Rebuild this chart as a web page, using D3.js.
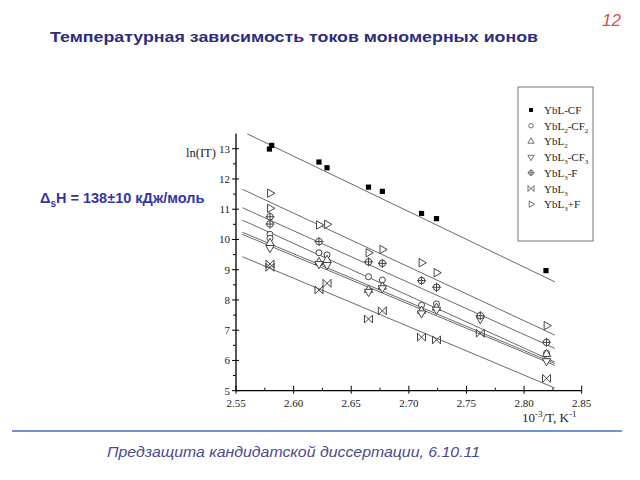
<!DOCTYPE html>
<html><head><meta charset="utf-8">
<script src="https://cdn.jsdelivr.net/npm/d3@7"></script>
<style>body{margin:0;background:#fff}</style>
</head><body>
<svg id="c" width="640" height="480"></svg>
<script>
// ---- data ----
const seriesNames = ["YbL-CF","YbL2-CF2","YbL2","YbL3-CF3","YbL3-F","YbL3","YbL3+F"];
const xTicks = [2.55,2.60,2.65,2.70,2.75,2.80,2.85];
const yTicks = [5,6,7,8,9,10,11,12,13];

const cfX   = [2.579,2.581,2.622,2.629,2.665,2.677,2.711,2.724,2.819];
const cfY   = [12.99,13.11,12.56,12.37,11.73,11.59,10.86,10.69,8.97];
const l2cfX = [2.5795,2.5795,2.622,2.629,2.665,2.677,2.711,2.724,2.8195];
const l2cfY = [10.17,10.04,9.56,9.49,8.77,8.66,7.83,7.87,6.24];
const l2X   = [2.5795,2.622,2.629,2.665,2.677,2.711,2.724,2.8195];
const l2Y   = [9.88,9.25,9.32,8.33,8.44,7.64,7.74,6.21];
const l3cfX = [2.5795,2.622,2.629,2.665,2.677,2.711,2.724,2.762,2.8195];
const l3cfY = [9.72,9.19,9.16,8.27,8.39,7.56,7.68,7.37,5.98];
const l3fX  = [2.5795,2.5795,2.622,2.665,2.677,2.711,2.724,2.762,2.8195];
const l3fY  = [10.75,10.51,9.93,9.26,9.21,8.64,8.42,7.48,6.60];
const l3X   = [2.5795,2.5795,2.622,2.629,2.665,2.677,2.711,2.724,2.762,2.8195];
const l3Y   = [9.19,9.08,8.33,8.55,7.37,7.64,6.77,6.68,6.90,5.41];
const l3pfX = [2.5795,2.5795,2.622,2.629,2.665,2.677,2.711,2.724,2.8195];
const l3pfY = [11.53,11.03,10.48,10.50,9.56,9.67,9.23,8.90,7.15];

// fitted lines (start / end, data units), same order as seriesNames
const fitX0 = [2.5598,2.5555,2.5555,2.5555,2.5555,2.5555,2.5555];
const fitX1 = [2.8266,2.8266,2.8266,2.8266,2.8266,2.8266,2.8266];
const fitY0 = [13.49,10.64,10.24,10.17,11.05,9.43,11.66];
const fitY1 = [8.60,5.95,5.90,5.84,6.40,5.09,6.84];

const seriesX = [cfX,l2cfX,l2X,l3cfX,l3fX,l3X,l3pfX];
const seriesY = [cfY,l2cfY,l2Y,l3cfY,l3fY,l3Y,l3pfY];

// ---- drawing ----
const svg = d3.select("#c");
const x = d3.scaleLinear().domain([2.55,2.85]).range([236,581.7]);
const y = d3.scaleLinear().domain([5,13.5]).range([390.7,133.6]);
const serif = "'Liberation Serif','Times New Roman',serif";
const sans = "'Liberation Sans',Arial,sans-serif";

// title
svg.append("text").attr("x",50).attr("y",42).attr("font-family",sans)
  .attr("font-weight","bold").attr("font-size",15.5).attr("fill","#2e2d7c")
  .attr("textLength",488).attr("lengthAdjust","spacingAndGlyphs")
  .text("Температурная зависимость токов мономерных ионов");
svg.append("text").attr("x",621).attr("y",26).attr("text-anchor","end").attr("font-family",sans)
  .attr("font-style","italic").attr("font-size",17).attr("fill","#e04a4a").text("12");

// dH
const dh = svg.append("text").attr("x",40).attr("y",203).attr("font-family",sans)
  .attr("font-weight","bold").attr("font-size",14.5).attr("fill","#3535a0");
dh.append("tspan").text("Δ");
dh.append("tspan").attr("font-size",10).attr("dy",4).text("s");
dh.append("tspan").attr("dy",-4).text("H = 138±10 кДж/моль");

// footer
svg.append("line").attr("x1",12).attr("x2",622).attr("y1",431).attr("y2",431)
  .attr("stroke","#7391da").attr("stroke-width",2);
svg.append("text").attr("x",107).attr("y",457).attr("font-family",sans)
  .attr("font-style","italic").attr("font-size",15).attr("fill","#4a4a8c")
  .attr("textLength",373).attr("lengthAdjust","spacingAndGlyphs")
  .text("Предзащита кандидатской диссертации, 6.10.11");

// axes
const x0 = x.range()[0], yb = y(5);
svg.append("line").attr("x1",x0).attr("x2",x0).attr("y1",y(13.5)).attr("y2",yb)
  .attr("stroke","#000").attr("stroke-width",1.3);
svg.append("line").attr("x1",x0).attr("x2",x(2.85)).attr("y1",yb).attr("y2",yb)
  .attr("stroke","#000").attr("stroke-width",1.3);
yTicks.forEach(v=>{
  svg.append("line").attr("x1",x0-4).attr("x2",x0+3).attr("y1",y(v)).attr("y2",y(v)).attr("stroke","#000");
  if(v<13) svg.append("line").attr("x1",x0-3).attr("x2",x0).attr("y1",y(v+0.5)).attr("y2",y(v+0.5)).attr("stroke","#000");
  svg.append("text").attr("x",x0-6).attr("y",y(v)+4).attr("text-anchor","end")
    .attr("font-family",serif).attr("font-size",11).attr("fill","#222").text(v);
});
xTicks.forEach((v,i)=>{
  svg.append("line").attr("x1",x(v)).attr("x2",x(v)).attr("y1",yb-5).attr("y2",yb+3).attr("stroke","#000");
  if(i<xTicks.length-1) svg.append("line").attr("x1",x((v+xTicks[i+1])/2)).attr("x2",x((v+xTicks[i+1])/2))
    .attr("y1",yb-3).attr("y2",yb).attr("stroke","#000");
  svg.append("text").attr("x",x(v)).attr("y",yb+16).attr("text-anchor","middle")
    .attr("font-family",serif).attr("font-size",11).attr("fill","#222").text(d3.format(".2f")(v));
});
svg.append("text").attr("x",186).attr("y",157).attr("font-family",serif).attr("font-size",12.5)
  .attr("fill","#222").text("ln(IT)");
const xl = svg.append("text").attr("x",522).attr("y",422).attr("font-family",serif)
  .attr("font-size",13).attr("fill","#222");
xl.append("tspan").text("10");
xl.append("tspan").attr("font-size",9).attr("dy",-5).text("-3");
xl.append("tspan").attr("dy",5).text("/T, K");
xl.append("tspan").attr("font-size",9).attr("dy",-5).text("-1");

// fit lines
seriesNames.forEach((n,i)=>{
  svg.append("line").attr("x1",x(fitX0[i])).attr("y1",y(fitY0[i]))
    .attr("x2",x(fitX1[i])).attr("y2",y(fitY1[i]))
    .attr("stroke","#6a6a6a").attr("stroke-width",1);
});

// symbols
const sym = {
  0: g=>g.append("rect").attr("x",-2.6).attr("y",-2.6).attr("width",5.2).attr("height",5.2).attr("fill","#000"),
  1: g=>g.append("circle").attr("r",3).attr("fill","#fff").attr("stroke","#444"),
  2: g=>g.append("path").attr("d",d3.symbol(d3.symbolTriangle,30)()).attr("fill","#fff").attr("stroke","#444"),
  3: g=>g.append("path").attr("d",d3.symbol(d3.symbolTriangle,30)()).attr("transform","rotate(180)").attr("fill","#fff").attr("stroke","#444"),
  4: g=>{g.append("circle").attr("r",3.3).attr("fill","#fff").attr("stroke","#444");
         g.append("path").attr("d","M-4.5,0L4.5,0M0,-4.5L0,4.5").attr("stroke","#444");},
  5: g=>g.append("path").attr("d","M-4,-4L4,4M-4,4L4,-4M-4,-4L-4,4M4,-4L4,4").attr("stroke","#444").attr("fill","none"),
  6: g=>g.append("path").attr("d",d3.symbol(d3.symbolTriangle,30)()).attr("transform","rotate(90)").attr("fill","#fff").attr("stroke","#444")
};
seriesNames.forEach((n,i)=>{
  seriesX[i].forEach((xv,j)=>{
    const g = svg.append("g").attr("transform",`translate(${x(xv)},${y(seriesY[i][j])})`);
    sym[i](g);
  });
});

// legend
svg.append("rect").attr("x",518).attr("y",87).attr("width",75).attr("height",154)
  .attr("fill","#fff").attr("stroke","#777").attr("stroke-width",1);
seriesNames.forEach((n,i)=>{
  const yy = 110 + i*15.7;
  const g = svg.append("g").attr("transform",`translate(531,${yy}) scale(0.75)`);
  sym[i](g);
  const t = svg.append("text").attr("x",544).attr("y",yy+4).attr("font-family",serif)
    .attr("font-size",11).attr("fill","#222");
  const parts = n.split(/(\d)/).filter(s=>s.length);
  let sub=false;
  parts.forEach(p=>{
    const isD = /^\d$/.test(p);
    const ts = t.append("tspan").text(p);
    if(isD && !sub){ts.attr("font-size",7).attr("dy",3);sub=true;}
    else if(!isD && sub){ts.attr("dy",-3);sub=false;}
  });
});
</script>
</body></html>
